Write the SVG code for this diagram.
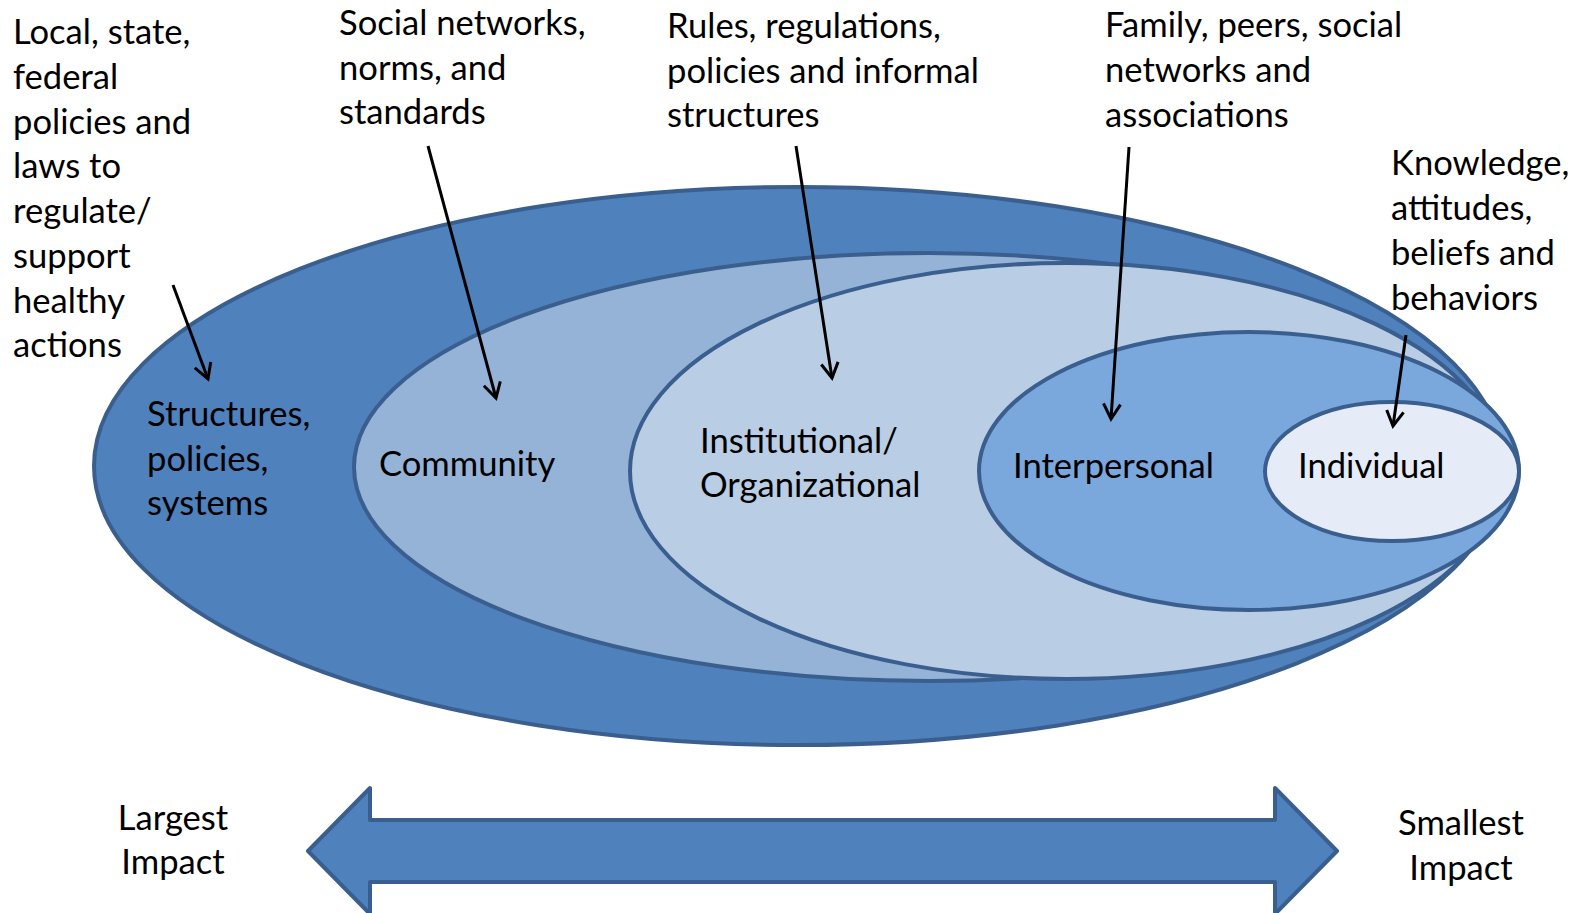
<svg xmlns="http://www.w3.org/2000/svg" width="1577" height="913" viewBox="0 0 1577 913">
<style>
.lvl{stroke:#3A5F8F;stroke-width:4}
.t{font-family:"Lato","Liberation Sans",sans-serif;font-size:34.6px;fill:#000}
.c{text-anchor:middle}
.ar{stroke:#000;stroke-width:3;fill:none;marker-end:url(#ah)}
</style>
<defs>
<marker id="ah" markerUnits="userSpaceOnUse" markerWidth="30" markerHeight="30" viewBox="-20 -15 30 30" refX="0" refY="0" orient="auto">
<path d="M-15,-8.5 L0,0 L-15,8.5" fill="none" stroke="#000" stroke-width="3" stroke-linejoin="miter"/>
</marker>
</defs>
<rect width="1577" height="913" fill="#fff"/>
<g id="structures">
<ellipse class="lvl" cx="798.5" cy="466" rx="704.5" ry="279" fill="#4F81BD"/>
<text class="t" x="147" y="426">Structures,</text>
<text class="t" x="147" y="471">policies,</text>
<text class="t" x="147" y="515">systems</text>
</g>
<g id="community">
<ellipse class="lvl" cx="928.5" cy="467" rx="574.5" ry="214" fill="#95B3D7"/>
<text class="t" x="379" y="476">Community</text>
</g>
<g id="institutional">
<ellipse class="lvl" cx="1066.5" cy="471" rx="436.5" ry="208" fill="#B9CDE5"/>
<text class="t" x="700" y="453">Institutional/</text>
<text class="t" x="700" y="497">Organizational</text>
</g>
<g id="interpersonal">
<ellipse class="lvl" cx="1249" cy="471" rx="270" ry="139" fill="#7AA7DC"/>
<text class="t" x="1013" y="478">Interpersonal</text>
</g>
<g id="individual">
<ellipse class="lvl" cx="1392" cy="471.5" rx="127" ry="69.5" fill="#E5ECF7"/>
<text class="t" x="1298" y="478">Individual</text>
</g>
<g id="desc-structures">
<text class="t" x="13" y="44">Local, state,</text>
<text class="t" x="13" y="89">federal</text>
<text class="t" x="13" y="133.5">policies and</text>
<text class="t" x="13" y="178">laws to</text>
<text class="t" x="13" y="223">regulate/</text>
<text class="t" x="13" y="268">support</text>
<text class="t" x="13" y="312.5">healthy</text>
<text class="t" x="13" y="357">actions</text>
</g>
<g id="desc-community">
<text class="t" x="339" y="35">Social networks,</text>
<text class="t" x="339" y="80">norms, and</text>
<text class="t" x="339" y="124">standards</text>
</g>
<g id="desc-institutional">
<text class="t" x="667" y="38">Rules, regulations,</text>
<text class="t" x="667" y="83">policies and informal</text>
<text class="t" x="667" y="127">structures</text>
</g>
<g id="desc-interpersonal">
<text class="t" x="1105" y="37">Family, peers, social</text>
<text class="t" x="1105" y="82">networks and</text>
<text class="t" x="1105" y="127">associations</text>
</g>
<g id="desc-individual">
<text class="t" x="1391" y="175">Knowledge,</text>
<text class="t" x="1391" y="220">attitudes,</text>
<text class="t" x="1391" y="265">beliefs and</text>
<text class="t" x="1391" y="310">behaviors</text>
</g>
<g id="connectors">
<line class="ar" x1="173" y1="285" x2="208" y2="379"/>
<line class="ar" x1="428" y1="146" x2="496" y2="398"/>
<line class="ar" x1="796" y1="146" x2="832" y2="378"/>
<line class="ar" x1="1129" y1="147" x2="1111" y2="419"/>
<line class="ar" x1="1406" y1="335" x2="1393" y2="426"/>
</g>
<g id="impact-arrow">
<polygon points="308,851 370,788 370,820 1275,820 1275,788 1337,851 1275,914 1275,882 370,882 370,914" fill="#4F81BD" stroke="#3A5F8F" stroke-width="4" stroke-linejoin="round"/>
</g>
<g id="impact-labels">
<text class="t c" x="173" y="830">Largest</text>
<text class="t c" x="173" y="874">Impact</text>
<text class="t c" x="1461" y="835">Smallest</text>
<text class="t c" x="1461" y="880">Impact</text>
</g>
</svg>
